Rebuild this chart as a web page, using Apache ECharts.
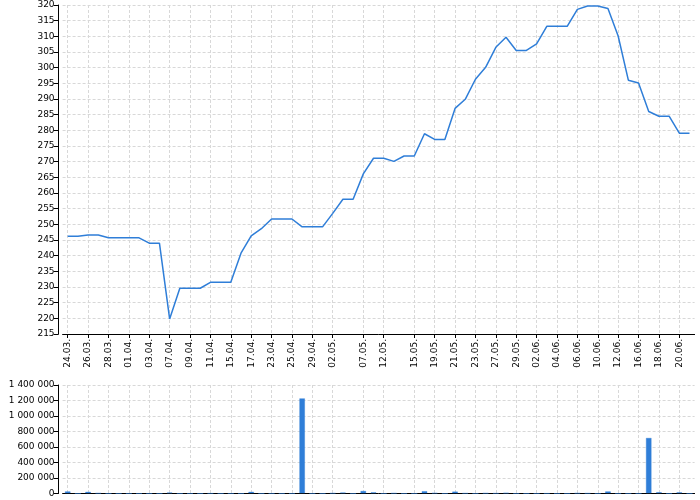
<!DOCTYPE html>
<html>
<head>
<meta charset="utf-8">
<script src="https://cdn.jsdelivr.net/npm/echarts@6/dist/echarts.min.js"></script>
<style>html,body{margin:0;padding:0;background:#fff;}#c{width:700px;height:500px;}</style>
</head>
<body>
<div id="c"></div>
<script>
const dates = ['24.03.','25.03.','26.03.','27.03.','28.03.','31.03.','01.04.','02.04.','03.04.','04.04.',
  '07.04.','08.04.','09.04.','10.04.','11.04.','14.04.','15.04.','16.04.','17.04.','18.04.',
  '23.04.','24.04.','25.04.','28.04.','29.04.','30.04.','02.05.','05.05.','06.05.','07.05.',
  '08.05.','12.05.','13.05.','14.05.','15.05.','16.05.','19.05.','20.05.','21.05.','22.05.',
  '23.05.','26.05.','27.05.','28.05.','29.05.','30.05.','02.06.','03.06.','04.06.','05.06.',
  '06.06.','09.06.','10.06.','11.06.','12.06.','13.06.','16.06.','17.06.','18.06.','19.06.',
  '20.06.','23.06.'];
const shownLabels = ['24.03.','26.03.','28.03.','01.04.','03.04.','07.04.','09.04.','11.04.','15.04.','17.04.',
  '23.04.','25.04.','29.04.','02.05.','07.05.','12.05.','15.05.','19.05.','21.05.','23.05.',
  '27.05.','29.05.','02.06.','04.06.','06.06.','10.06.','12.06.','16.06.','18.06.','20.06.'];
const prices = [246.2,246.2,246.6,246.6,245.7,245.7,245.7,245.7,244.0,244.0,
  219.8,229.6,229.6,229.6,231.5,231.5,231.5,240.8,246.3,248.6,
  251.7,251.7,251.7,249.2,249.2,249.2,253.5,258.0,258.0,266.1,
  271.1,271.1,270.1,271.8,271.8,278.9,277.1,277.1,287.0,289.9,
  296.3,300.1,306.5,309.7,305.5,305.5,307.6,313.2,313.2,313.2,
  318.6,319.7,319.7,318.9,310.1,296.0,295.1,286.0,284.5,284.5,
  279.1,279.1];
const volumes = [30000,0,25000,5000,0,0,0,0,0,0,
  15000,0,0,0,2000,0,0,0,25000,0,
  0,0,0,1230000,0,0,5000,15000,0,36000,
  18000,0,5000,0,0,33000,8000,0,28000,4000,
  0,5000,3000,10000,0,0,0,1000,0,0,
  6000,4000,0,30000,0,0,0,720000,20000,0,
  18000,0];

const FONT = 'DejaVu Sans';
const BLUE = '#2f7ed8';
const showFn = function (idx, val) { return shownLabels.indexOf(dates[idx]) >= 0; };
const gridLine = { show: true, lineStyle: { color: '#d8d8d8', type: [3, 2], width: 1 } };
const fmtSpace = v => String(v).replace(/\B(?=(\d{3})+(?!\d))/g, ' ');

const chart = echarts.init(document.getElementById('c'), null, { renderer: 'canvas' });
chart.setOption({
  animation: false,
  backgroundColor: '#fff',
  grid: [
    { left: 62.6, right: 5.4, top: 5, bottom: 166, containLabel: false },
    { left: 62.6, right: 5.4, top: 385, bottom: 6.5, containLabel: false }
  ],
  xAxis: [
    {
      type: 'category', gridIndex: 0, data: dates, boundaryGap: true,
      axisLine: { show: true, onZero: false, lineStyle: { color: '#000', width: 1 } },
      axisTick: { show: true, alignWithLabel: true, interval: showFn, length: 4, lineStyle: { color: '#000' } },
      axisLabel: { interval: showFn, rotate: 90, fontFamily: FONT, fontSize: 9, color: '#000', margin: 5 },
      splitLine: Object.assign({ interval: showFn, alignWithLabel: true }, gridLine)
    },
    {
      type: 'category', gridIndex: 1, data: dates, boundaryGap: true,
      axisLine: { show: true, onZero: false, lineStyle: { color: '#000', width: 1 } },
      axisTick: { show: false },
      axisLabel: { show: false, interval: showFn },
      splitLine: Object.assign({ interval: showFn, alignWithLabel: true }, gridLine)
    }
  ],
  yAxis: [
    {
      type: 'value', gridIndex: 0, min: 215, max: 320, interval: 5, offset: 4,
      axisLine: { show: true, lineStyle: { color: '#000', width: 1 } },
      axisTick: { show: true, length: 5, lineStyle: { color: '#000' } },
      axisLabel: { fontFamily: FONT, fontSize: 9, color: '#000', margin: 4 },
      splitLine: gridLine
    },
    {
      type: 'value', gridIndex: 1, min: 0, max: 1400000, interval: 200000, offset: 4,
      axisLine: { show: true, lineStyle: { color: '#000', width: 1 } },
      axisTick: { show: true, length: 5, lineStyle: { color: '#000' } },
      axisLabel: { fontFamily: FONT, fontSize: 9, color: '#000', margin: 4, formatter: fmtSpace },
      splitLine: gridLine
    }
  ],
  series: [
    {
      type: 'line', xAxisIndex: 0, yAxisIndex: 0, data: prices,
      symbol: 'none', lineStyle: { color: BLUE, width: 1.5 }, itemStyle: { color: BLUE }
    },
    {
      type: 'bar', xAxisIndex: 1, yAxisIndex: 1, data: volumes, barWidth: 6,
      itemStyle: { color: BLUE, borderColor: 'rgba(47,126,216,0.35)', borderWidth: 1 }
    }
  ]
});
</script>
</body>
</html>
